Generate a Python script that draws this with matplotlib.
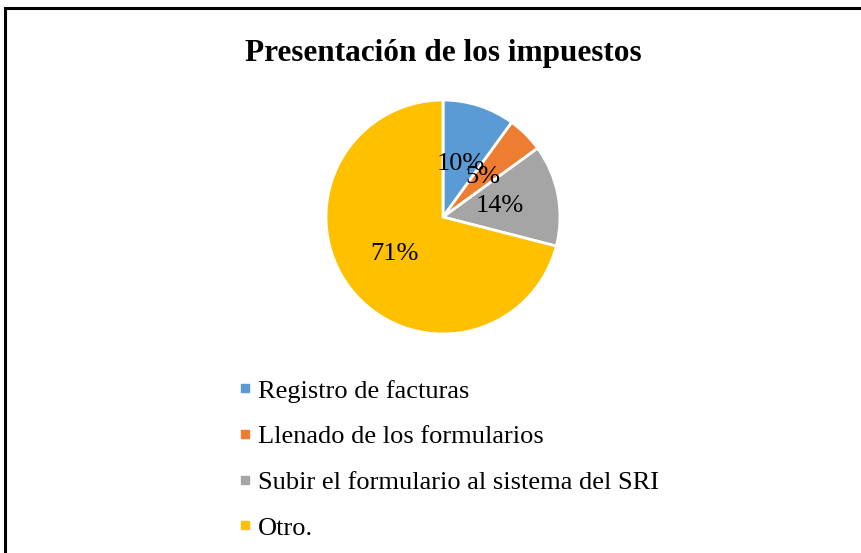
import numpy as np
import matplotlib.pyplot as plt
from matplotlib.lines import Line2D
from matplotlib.patches import Rectangle

plt.rcParams['font.family'] = ['Liberation Serif', 'DejaVu Serif']

# datos del grafico
categorias = ['Registro de facturas', 'Llenado de los formularios',
              'Subir el formulario al sistema del SRI', 'Otro.']
porcentajes = [10, 5, 14, 71]
colores = ['#5B9BD5', '#ED7D31', '#A5A5A5', '#FFC000']

W, H = 862, 553
fig = plt.figure(figsize=(W / 100, H / 100), dpi=100)

# marco negro (solo se ven los bordes izquierdo y superior)
fig.add_artist(Rectangle((5 / W, -0.2), 1.2, 1 - 8 / H + 0.2,
                         transform=fig.transFigure, fill=False,
                         edgecolor='black', linewidth=2.2, clip_on=False))

fig.text(443 / W, 1 - 53 / H, 'Presentación de los impuestos',
         ha='center', va='center', fontsize=22.5, fontweight='bold')

# pastel
cx, cy, r = 443, 217, 117
ax = fig.add_axes([(cx - r) / W, (H - cy - r) / H, 2 * r / W, 2 * r / H])
wedges, _ = ax.pie(porcentajes, colors=colores, startangle=90, counterclock=False,
                   wedgeprops={'edgecolor': 'white', 'linewidth': 2})
ax.set_xlim(-1, 1)
ax.set_ylim(-1, 1)
ax.set_aspect('equal')
ax.axis('off')

# etiquetas de porcentaje
dist = [0.48, 0.48, 0.49, 0.52]
for w, p, d in zip(wedges, porcentajes, dist):
    ang = np.deg2rad((w.theta1 + w.theta2) / 2)
    ax.text(d * np.cos(ang), d * np.sin(ang), f'{p}%',
            ha='center', va='center', fontsize=19)

# leyenda
handles = [Line2D([], [], marker='s', linestyle='', markersize=5.5,
                  markerfacecolor=c, markeredgecolor=c) for c in colores]
fig.legend(handles, categorias, loc='upper left',
           bbox_to_anchor=(224 / W, 1 - 366 / H), frameon=False,
           fontsize=19, handlelength=0.6, handletextpad=0.2,
           labelspacing=0.84, borderpad=0)

fig.savefig('out.png', dpi=100)
